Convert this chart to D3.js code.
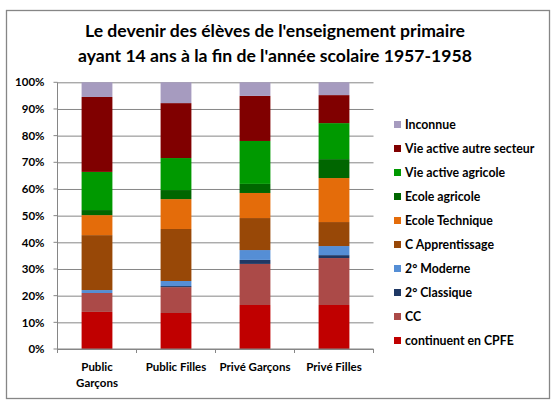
<!DOCTYPE html>
<html>
<head>
<meta charset="utf-8">
<script src="https://cdn.jsdelivr.net/npm/d3@7"></script>
<style>
  body { margin: 0; background: #fff; }
  text { font-family: Lato, "Open Sans", sans-serif; font-weight: bold; fill: #000; }
</style>
</head>
<body>
<div id="chart"></div>
<script>
// categories (bars) and x labels
const categories = ["Public Garçons", "Public Filles", "Privé Garçons", "Privé Filles"];
const categoryLabels = [["Public", "Garçons"], ["Public Filles"], ["Privé Garçons"], ["Privé Filles"]];

// series, from bottom of the stack to the top (percentages)
const seriesNames = [
  "continuent en CPFE", "CC", "2° Classique", "2° Moderne", "C Apprentissage",
  "Ecole Technique", "Ecole agricole", "Vie active agricole", "Vie active autre secteur", "Inconnue"
];
const cpfe        = [13.9, 13.5, 16.5, 16.5];
const cc          = [7.1, 9.7, 15.4, 17.6];
const classique   = [0.0, 0.4, 1.5, 1.1];
const moderne     = [1.1, 1.9, 3.7, 3.4];
const apprentis   = [20.6, 19.5, 12.0, 9.0];
const technique   = [7.5, 11.2, 9.4, 16.5];
const ecoleAgri   = [1.9, 3.4, 3.4, 7.1];
const vieAgricole = [14.3, 12.0, 16.1, 13.5];
const vieAutre    = [28.1, 20.6, 16.9, 10.5];
const inconnue    = [5.5, 7.8, 5.1, 4.8];

const yTicks = [0, 10, 20, 30, 40, 50, 60, 70, 80, 90, 100];
const titleLines = [
  "Le devenir des élèves de l'enseignement primaire",
  "ayant 14 ans à la fin de l'année scolaire 1957-1958"
];

const seriesValues = [cpfe, cc, classique, moderne, apprentis, technique, ecoleAgri, vieAgricole, vieAutre, inconnue];
const colors = ["#C00000", "#AB4A48", "#1F3864", "#558ED5", "#984807",
                "#E46C0A", "#006600", "#009900", "#800000", "#A69BBF"];

// table for d3.stack
const table = categories.map((c, i) => {
  const row = { category: c };
  seriesNames.forEach((s, j) => { row[s] = seriesValues[j][i]; });
  return row;
});

const svgWidth = 558, svgHeight = 407;
const margin = { top: 82.3, left: 57.5 };
const width = 316, height = 266.7;

const svg = d3.select("#chart").append("svg")
  .attr("width", svgWidth)
  .attr("height", svgHeight);

// outer frame
svg.append("rect")
  .attr("x", 6.5).attr("y", 10.5)
  .attr("width", 543).attr("height", 388)
  .attr("fill", "#fff")
  .attr("stroke", "#868686")
  .attr("stroke-width", 1.3);

// title
svg.append("text")
  .attr("x", 275).attr("y", 37)
  .attr("text-anchor", "middle")
  .attr("font-size", "17.6px")
  .selectAll("tspan")
  .data(titleLines)
  .enter().append("tspan")
  .attr("x", 275)
  .attr("dy", (d, i) => i === 0 ? 0 : 25)
  .text(d => d);

const g = svg.append("g")
  .attr("transform", `translate(${margin.left}, ${margin.top})`);

const xScale = d3.scaleBand()
  .domain(categories)
  .range([0, width])
  .paddingInner(0.61)
  .paddingOuter(0.305);

const yScale = d3.scaleLinear()
  .domain([0, 100])
  .range([height, 0]);

// gridlines + y axis
g.append("g")
  .attr("class", "y-axis")
  .call(d3.axisLeft(yScale).tickValues(yTicks).tickSize(-width).tickSizeOuter(0)
    .tickFormat(d => d + "%"))
  .call(a => a.select(".domain").remove())
  .call(a => a.selectAll(".tick line").attr("stroke", "#868686").attr("stroke-width", 1))
  .call(a => a.selectAll(".tick text").attr("x", -13).attr("font-size", "11.5px")
    .style("font-family", "Lato, sans-serif").style("font-weight", "bold").attr("fill", "#000"));

// small tick marks left of the y axis
g.append("g")
  .selectAll("line")
  .data(yTicks)
  .enter().append("line")
  .attr("x1", -4).attr("x2", 0)
  .attr("y1", d => yScale(d)).attr("y2", d => yScale(d))
  .attr("stroke", "#868686");

// stacked bars
const stack = d3.stack().keys(seriesNames);
const layers = stack(table);

g.selectAll(".layer")
  .data(layers)
  .enter().append("g")
  .attr("class", "layer")
  .attr("fill", (d, i) => colors[i])
  .selectAll("rect")
  .data(d => d)
  .enter().append("rect")
  .attr("x", d => xScale(d.data.category))
  .attr("width", xScale.bandwidth())
  .attr("y", d => yScale(d[1]))
  .attr("height", d => yScale(d[0]) - yScale(d[1]));

// y axis line
g.append("line")
  .attr("x1", 0).attr("x2", 0)
  .attr("y1", 0).attr("y2", height + 4)
  .attr("stroke", "#868686");

// x axis with ticks at category boundaries
g.append("line")
  .attr("x1", 0).attr("x2", width)
  .attr("y1", height).attr("y2", height)
  .attr("stroke", "#868686");

g.append("g")
  .selectAll("line")
  .data(categories)
  .enter().append("line")
  .attr("x1", d => xScale(d) + xScale.bandwidth() / 2 + xScale.step() / 2)
  .attr("x2", d => xScale(d) + xScale.bandwidth() / 2 + xScale.step() / 2)
  .attr("y1", height).attr("y2", height + 4)
  .attr("stroke", "#868686");

// x labels
g.append("g")
  .selectAll("text")
  .data(categories)
  .enter().append("text")
  .attr("text-anchor", "middle")
  .attr("font-size", "11.5px")
  .attr("x", d => xScale(d) + xScale.bandwidth() / 2)
  .attr("y", height + 22)
  .each(function (d, i) {
    d3.select(this).selectAll("tspan")
      .data(categoryLabels[i])
      .enter().append("tspan")
      .attr("x", xScale(d) + xScale.bandwidth() / 2)
      .attr("dy", (t, k) => k === 0 ? 0 : 16)
      .text(t => t);
  });

// legend (top item first)
const legendItems = seriesNames.map((s, i) => ({ name: s, color: colors[i] })).reverse();
const legend = svg.append("g").attr("transform", "translate(394, 125)");
const item = legend.selectAll("g")
  .data(legendItems)
  .enter().append("g")
  .attr("transform", (d, i) => `translate(0, ${i * 24})`);
item.append("rect")
  .attr("x", 0).attr("y", -4)
  .attr("width", 7).attr("height", 7)
  .attr("fill", d => d.color);
item.append("text")
  .attr("x", 11).attr("y", 4.3)
  .attr("font-size", "12.3px")
  .text(d => d.name);
</script>
</body>
</html>
